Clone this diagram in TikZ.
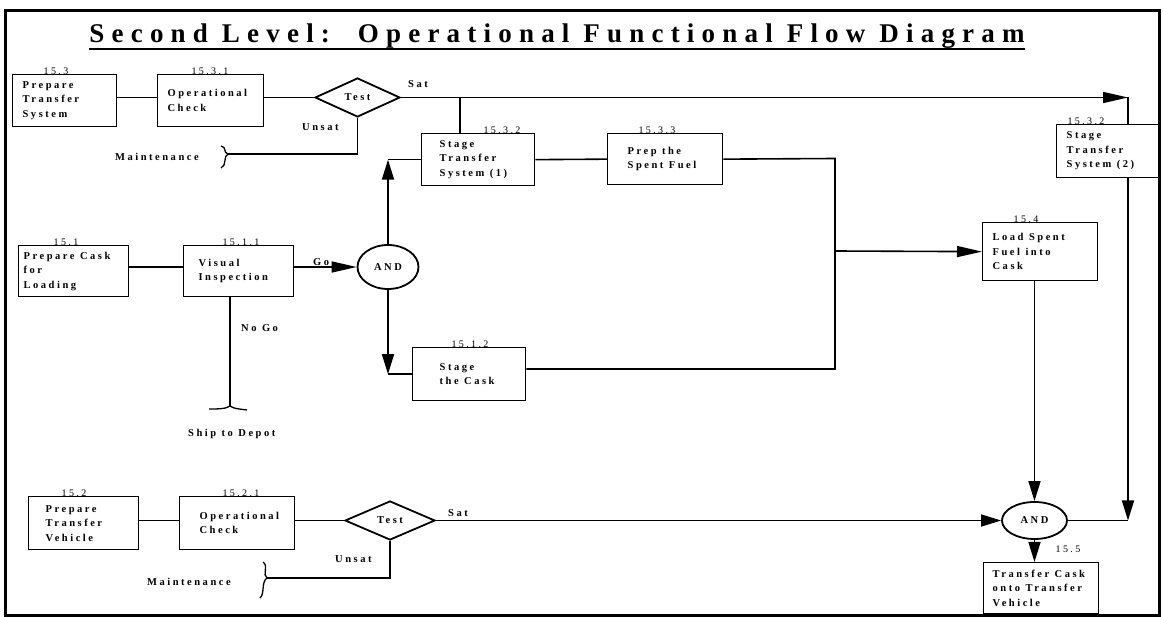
\documentclass[tikz,border=0pt]{standalone}
\usepackage{fontspec}
\setmainfont{Liberation Serif}
\newfontfamily\titlefont[LetterSpace=26.7]{Liberation Serif}
\newfontfamily\lsfont[LetterSpace=24]{Liberation Serif}
\newcommand{\ws}{\hspace{5.5pt}}
\usetikzlibrary{shapes.geometric,arrows.meta}
\tikzset{
  blk/.style 2 args={draw, line width=1.3pt, anchor=north west, align=left,
    inner ysep=0pt, inner xsep=#2, text width=#1,
    font=\lsfont\bfseries\fontsize{10.5}{14.5}\selectfont},
  num/.style={anchor=base, inner sep=0pt, font=\lsfont\fontsize{10}{12}\selectfont},
  lbl/.style={anchor=base west, inner sep=0pt, font=\lsfont\bfseries\fontsize{10.5}{12}\selectfont},
  tst/.style={diamond, draw, line width=1.8pt, inner sep=0pt, font=\lsfont\bfseries\fontsize{10.5}{12}\selectfont},
  andn/.style={ellipse, draw, line width=1.8pt, inner sep=0pt, font=\lsfont\bfseries\fontsize{10.5}{12}\selectfont},
  con/.style={line width=1.6pt},
  arr/.style={con, -{Triangle[length=20pt,width=12pt]}},
  larr/.style={con, -{Triangle[length=25pt,width=11pt]}},
  brc/.style={line width=1.3pt}
}
\begin{document}
\begin{tikzpicture}[x=1pt,y=-1pt]
\useasboundingbox (0,0) rectangle (1163,617);
\draw[line width=3pt] (5.5,11) rectangle (1159.5,615);
% title
\node[anchor=base, inner sep=0pt, font=\titlefont\bfseries\fontsize{27}{30}\selectfont] (title) at (557,43) {Second Level:\ \ Operational Functional Flow Diagram};
\draw[line width=2pt] ([yshift=-6pt]title.base west) -- ([yshift=-6pt]title.base east);

% boxes
\node[blk={84pt}{10pt}, minimum height=52pt] (b153) at (12,74) {\mbox{Prepare}\\\mbox{Transfer}\\\mbox{System}};
\node[blk={86pt}{10pt}, minimum height=52pt] (b1531) at (157,74) {\mbox{Operational}\\\mbox{Check}};
\node[blk={77pt}{18pt}, minimum height=52pt] (b1532a) at (421,133) {\mbox{Stage}\\\mbox{Transfer}\\\mbox{System\ws(1)}};
\node[blk={75pt}{20pt}, minimum height=51pt] (b1533) at (607,133) {\mbox{Prep\ws the}\\\mbox{Spent\ws Fuel}};
\node[blk={84pt}{10pt}, minimum height=53pt] (b1532b) at (1056,124) {\mbox{Stage}\\\mbox{Transfer}\\\mbox{System\ws(2)}};
\node[blk={100pt}{5pt}, minimum height=51pt] (b151) at (18,245) {\mbox{Prepare\ws Cask}\\\mbox{for}\\\mbox{Loading}};
\node[blk={80pt}{15pt}, minimum height=51pt] (b1511) at (183,245) {\mbox{Visual}\\\mbox{Inspection}};
\node[blk={59pt}{27pt}, minimum height=53pt] (b1512) at (412,347) {\mbox{Stage}\\\mbox{the\ws Cask}};
\node[blk={95pt}{10pt}, minimum height=58pt] (b154) at (982,222) {\mbox{Load\ws Spent}\\\mbox{Fuel\ws into}\\\mbox{Cask}};
\node[blk={76pt}{17pt}, minimum height=53pt] (b152) at (28,496) {\mbox{Prepare}\\\mbox{Transfer}\\\mbox{Vehicle}};
\node[blk={75pt}{20pt}, minimum height=53pt] (b1521) at (179,496) {\mbox{Operational}\\\mbox{Check}};
\node[blk={97pt}{9pt}, minimum height=51pt] (b155) at (983,562) {\mbox{Transfer\ws Cask}\\\mbox{onto\ws Transfer}\\\mbox{Vehicle}};

% numbers
\node[num] (n153) at (56,75) {15.3};
\node[num] (n1531) at (210,75) {15.3.1};
\node[num] (n1532a) at (502,134) {15.3.2};
\node[num] (n1533) at (657,134) {15.3.3};
\node[num] (n1532b) at (1086,125) {15.3.2};
\node[num] (n151) at (66,246) {15.1};
\node[num] (n1511) at (241,246) {15.1.1};
\node[num] (n1512) at (470,348) {15.1.2};
\node[num] (n154) at (1026,223) {15.4};
\node[num] (n152) at (74,497) {15.2};
\node[num] (n1521) at (241,497) {15.2.1};
\node[num] (n155) at (1068,553) {15.5};

% decision and junction nodes
\node[tst, minimum width=85pt, minimum height=39pt] (t1) at (357.5,97.5) {Test};
\node[tst, minimum width=90pt, minimum height=39pt] (t2) at (390,520.5) {Test};
\node[andn, minimum width=61pt, minimum height=44pt] (a1) at (388,267) {AND};
\node[andn, minimum width=65pt, minimum height=37pt] (a2) at (1034.5,520.5) {AND};

% labels
\node[lbl] (sat1) at (408,88) {Sat};
\node[lbl] (unsat1) at (302,131) {Unsat};
\node[lbl] (mt1) at (115,161) {Maintenance};
\node[lbl] (go) at (313,266) {Go};
\node[lbl] (nogo) at (241,332) {No\ws Go};
\node[lbl] (ship) at (188,437) {Ship\ws to\ws Depot};
\node[lbl] (sat2) at (448,517) {Sat};
\node[lbl] (unsat2) at (335,562) {Unsat};
\node[lbl] (mt2) at (147,585) {Maintenance};

% coordinates
\coordinate (c1) at (1128,97.5);
\coordinate (j1) at (460,97.5);
\coordinate (bt) at (835,158.5);
\coordinate (bm) at (835,251);
\coordinate (bb) at (835,369);
\coordinate (c4) at (1128,520.5);
\coordinate (m1) at (228,154);
\coordinate (m2) at (267,578);
\coordinate (ng) at (230,406);

% top row
\draw[con] (b153.east |- t1.west) -- (b1531.west |- t1.west);
\draw[con] (b1531.east |- t1.west) -- (t1.west);
\draw[larr] (t1.east) -- (c1);
\draw[con] (c1) -- (c1 |- b1532b.north);
\draw[con] (j1) -- (j1 |- b1532a.north);
\draw[con] (b1532a.east) -- (b1533.west);
\draw[con] (b1533.east) -- (bt) -- (bb) -- (bb -| b1512.east);
\draw[larr] (bm) -- (b154.west);
\draw[con] (t1.south) |- (m1);
\draw[brc] (221,146) .. controls (227,147) and (223,153) .. (m1) .. controls (223,156) and (227,166) .. (221,168);

% middle row
\draw[con] (b151.east |- a1.west) -- (b1511.west |- a1.west);
\draw[larr] (b1511.east |- a1.west) -- (a1.west);
\draw[con] (b1511.south -| ng) -- (ng);
\draw[brc] (209,409) .. controls (218,409) and (226,409) .. (ng) .. controls (234,409) and (240,409) .. (247,410);
\draw[arr] (a1.north) -- (a1.north |- b1532a.west);
\draw[con] (a1.north |- b1532a.west) -- (b1532a.west);
\draw[arr] (a1.south) -- (a1.south |- b1512.west);
\draw[con] (a1.south |- b1512.west) -- (b1512.west);

% right column
\draw[arr] (a2.north |- b154.south) -- (a2.north);
\draw[arr] (c1 |- b1532b.south) -- (c4);
\draw[con] (a2.east) -- (c4);
\draw[arr] (a2.south) -- (a2.south |- b155.north);

% bottom row
\draw[con] (b152.east |- t2.west) -- (b1521.west |- t2.west);
\draw[con] (b1521.east |- t2.west) -- (t2.west);
\draw[arr] (t2.east) -- (a2.west);
\draw[con] (t2.south) |- (m2);
\draw[brc] (263,562) .. controls (269,566) and (262,575) .. (m2) .. controls (261,582) and (265,594) .. (260,598);
\end{tikzpicture}
\end{document}
